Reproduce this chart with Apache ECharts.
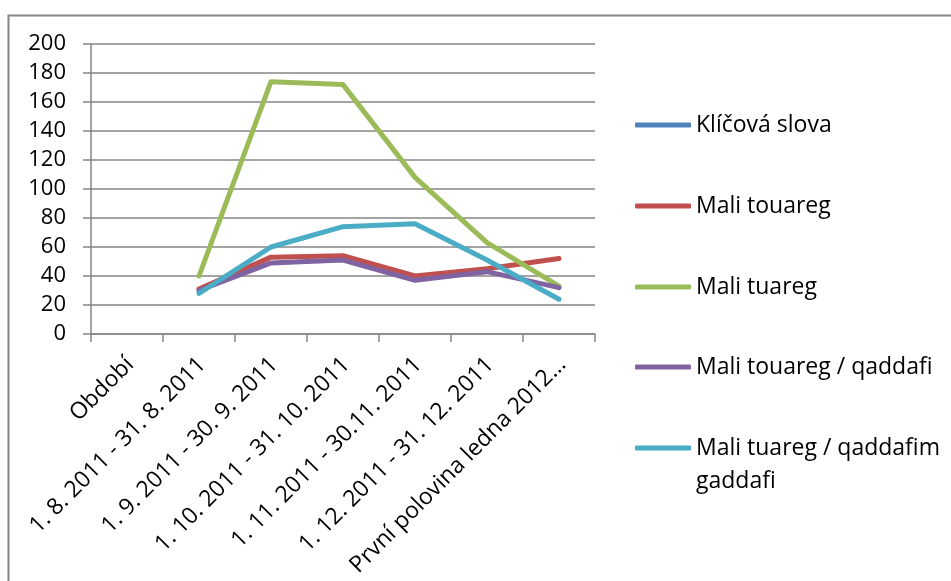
<!DOCTYPE html>
<html>
<head>
<meta charset="utf-8">
<script src="https://cdn.jsdelivr.net/npm/echarts@6/dist/echarts.min.js"></script>
<style>
html,body{margin:0;padding:0;background:#fff;}
#chart{width:951px;height:581px;}
</style>
</head>
<body>
<div id="chart"></div>
<script>
var categories = ['Období', '1. 8. 2011 - 31. 8. 2011', '1. 9. 2011 - 30. 9. 2011', '1. 10. 2011 - 31. 10. 2011', '1. 11. 2011 - 30.11. 2011', '1. 12. 2011 - 31. 12. 2011', 'První polovina ledna 2012…'];
var seriesNames = ['Klíčová slova', 'Mali touareg', 'Mali tuareg', 'Mali touareg / qaddafi', 'Mali tuareg / qaddafim gaddafi'];
var klicovaSlova = [null, null, null, null, null, null, null];
var maliTouareg = [null, 31, 53, 54, 40, 45, 52];
var maliTuareg = [null, 40, 174, 172, 108, 63, 33];
var maliTouaregQaddafi = [null, 30, 49, 51, 37, 43, 32];
var maliTuaregQaddafim = [null, 28, 60, 74, 76, 51, 24];
var yTicks = [0, 20, 40, 60, 80, 100, 120, 140, 160, 180, 200];
var colors = ['#4F81BD', '#C0504D', '#9BBB59', '#8064A2', '#4BACC6'];

var FONT = '"Open Sans", sans-serif';
var seriesData = [klicovaSlova, maliTouareg, maliTuareg, maliTouaregQaddafi, maliTuaregQaddafim];
var legendCenters = [125, 206, 287, 367, 448];
var LH = 33;

var legends = seriesNames.map(function (n, i) {
  var last = i === seriesNames.length - 1;
  return {
    orient: 'vertical',
    left: 635,
    top: last ? legendCenters[i] - 1.5 * LH : legendCenters[i] - 0.5 * LH,
    padding: 0,
    itemWidth: 56,
    itemHeight: 5,
    icon: 'roundRect',
    selectedMode: false,
    data: [{ name: n, icon: 'roundRect', itemStyle: { color: colors[i] } }],
    formatter: function (name) {
      return name === 'Mali tuareg / qaddafim gaddafi' ? '\nMali tuareg / qaddafim\ngaddafi' : name;
    },
    textStyle: { fontFamily: FONT, fontSize: 23, color: '#000', lineHeight: LH }
  };
});

var chart = echarts.init(document.getElementById('chart'), null, { renderer: 'canvas' });
chart.setOption({
  animation: false,
  backgroundColor: '#fff',
  color: colors,
  graphic: [{
    type: 'rect',
    shape: { x: 8.5, y: 15.5, width: 1000, height: 700 },
    style: { fill: 'none', stroke: '#868686', lineWidth: 2 },
    silent: true
  }],
  legend: legends,
  grid: { left: 91, top: 44, width: 504, height: 290, containLabel: false },
  xAxis: {
    type: 'category',
    data: categories,
    boundaryGap: true,
    axisLine: { lineStyle: { color: '#868686', width: 1.5 } },
    axisTick: { show: true, length: 8, lineStyle: { color: '#868686', width: 1.5 }, inside: false },
    axisLabel: { rotate: 45, interval: 0, margin: 14, padding: [0, 7, 0, 0], verticalAlign: 'top', align: 'right', fontFamily: FONT, fontSize: 23, color: '#000' },
    splitLine: { show: false }
  },
  yAxis: {
    type: 'value',
    min: yTicks[0],
    max: yTicks[yTicks.length - 1],
    interval: yTicks[1] - yTicks[0],
    axisLine: { show: true, lineStyle: { color: '#868686', width: 1.5 } },
    axisTick: { show: true, length: 8, lineStyle: { color: '#868686', width: 1.5 } },
    axisLabel: { margin: 25, fontFamily: FONT, fontSize: 22, color: '#000' },
    splitLine: { show: true, lineStyle: { color: '#868686', width: 1.5 } }
  },
  series: seriesNames.map(function (n, i) {
    return {
      name: n,
      type: 'line',
      data: seriesData[i],
      showSymbol: false,
      symbol: 'none',
      connectNulls: false,
      lineStyle: { color: colors[i], width: 5, cap: 'round', join: 'round' },
      itemStyle: { color: colors[i] }
    };
  })
});
</script>
</body>
</html>
